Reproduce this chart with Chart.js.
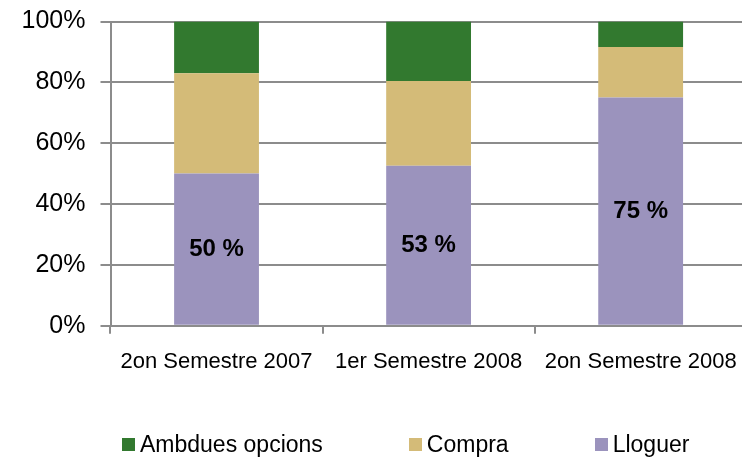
<!DOCTYPE html>
<html>
<head>
<meta charset="utf-8">
<script src="https://cdn.jsdelivr.net/npm/chart.js@4.4.1/dist/chart.umd.min.js"></script>
<style>
  html, body { margin: 0; padding: 0; background: #fff; overflow: hidden; width: 742px; height: 457px; }
  #wrap { position: absolute; left: 0; top: 0; width: 752px; height: 457px; }
  #legend { position: absolute; left: 122px; top: 431px; display: flex; gap: 86px;
            font: 23px 'Liberation Sans', Arial, sans-serif; color: #000; white-space: nowrap; }
  #legend .it { display: flex; align-items: center; }
  #legend .bx { width: 13px; height: 13px; margin-right: 5px; }
</style>
</head>
<body>
<div id="wrap"><canvas id="c"></canvas></div>
<div id="legend"></div>
<script>
// dades llegides de la imatge
const CATEGORIES = ['2on Semestre 2007', '1er Semestre 2008', '2on Semestre 2008'];
const LLOGUER = [50.0, 52.6, 75.0];
const COMPRA = [33.0, 27.8, 16.6];
const AMBDUES = [17.0, 19.6, 8.4];
const Y_TICKS = [0, 20, 40, 60, 80, 100];

const GREEN = '#32792f', TAN = '#d4bb78', PURPLE = '#9b93bd', GRID = '#8c8c8c';
const FONT = "'Liberation Sans', Arial, sans-serif";

// etiqueta "50 %" al mig del tram de Lloguer
const pctLabels = {
  id: 'pctLabels',
  afterDatasetsDraw(chart) {
    const { ctx } = chart;
    const meta = chart.getDatasetMeta(0);
    ctx.save();
    ctx.font = 'bold 24px ' + FONT;
    ctx.fillStyle = '#000';
    ctx.textAlign = 'center';
    ctx.textBaseline = 'middle';
    meta.data.forEach((bar, i) => {
      ctx.fillText(Math.round(LLOGUER[i]) + ' %', bar.x, (bar.y + bar.base) / 2);
    });
    ctx.restore();
  },
};

// llegenda HTML (a l'original les entrades estan molt separades)
const htmlLegend = {
  id: 'htmlLegend',
  afterUpdate(chart) {
    const box = document.getElementById('legend');
    box.innerHTML = '';
    const items = chart.options.plugins.legend.labels.generateLabels(chart).reverse();
    items.forEach((it) => {
      const d = document.createElement('div');
      d.className = 'it';
      const b = document.createElement('span');
      b.className = 'bx';
      b.style.background = it.fillStyle;
      d.appendChild(b);
      d.appendChild(document.createTextNode(it.text));
      box.appendChild(d);
    });
  },
};

new Chart(document.getElementById('c'), {
  type: 'bar',
  data: {
    labels: CATEGORIES,
    datasets: [
      { label: 'Lloguer', data: LLOGUER, backgroundColor: PURPLE },
      { label: 'Compra', data: COMPRA, backgroundColor: TAN },
      { label: 'Ambdues opcions', data: AMBDUES, backgroundColor: GREEN },
    ],
  },
  options: {
    responsive: true, maintainAspectRatio: false, animation: false,
    datasets: { bar: { categoryPercentage: 1, barPercentage: 0.4, borderWidth: 0 } },
    layout: { padding: { left: 0, right: 2, top: 21.5, bottom: 81.3 } },
    plugins: { legend: { display: false }, tooltip: { enabled: false } },
    scales: {
      x: {
        stacked: true,
        afterFit: (s) => { s.height = 50; },
        grid: { offset: true, drawOnChartArea: false, drawTicks: true, tickLength: 8, color: GRID, lineWidth: 2 },
        border: { color: GRID, width: 2 },
        ticks: { color: '#000', font: { family: FONT, size: 22 }, padding: 15, maxRotation: 0, autoSkip: false },
      },
      y: {
        stacked: true, min: 0, max: 100,
        // amplada fixa i sense el marge extra a dalt que afegeix ticks.padding
        afterFit: (s) => { s.width = 110.5; s.paddingTop = 15; s.paddingBottom = 15; },
        afterBuildTicks: (s) => { s.ticks = Y_TICKS.map((v) => ({ value: v })); },
        grid: { color: GRID, lineWidth: 2, tickLength: 10 },
        border: { color: GRID, width: 2 },
        ticks: { color: '#000', font: { family: FONT, size: 25 }, padding: 15, callback: (v) => v + '%' },
      },
    },
  },
  plugins: [pctLabels, htmlLegend],
});
</script>
</body>
</html>
